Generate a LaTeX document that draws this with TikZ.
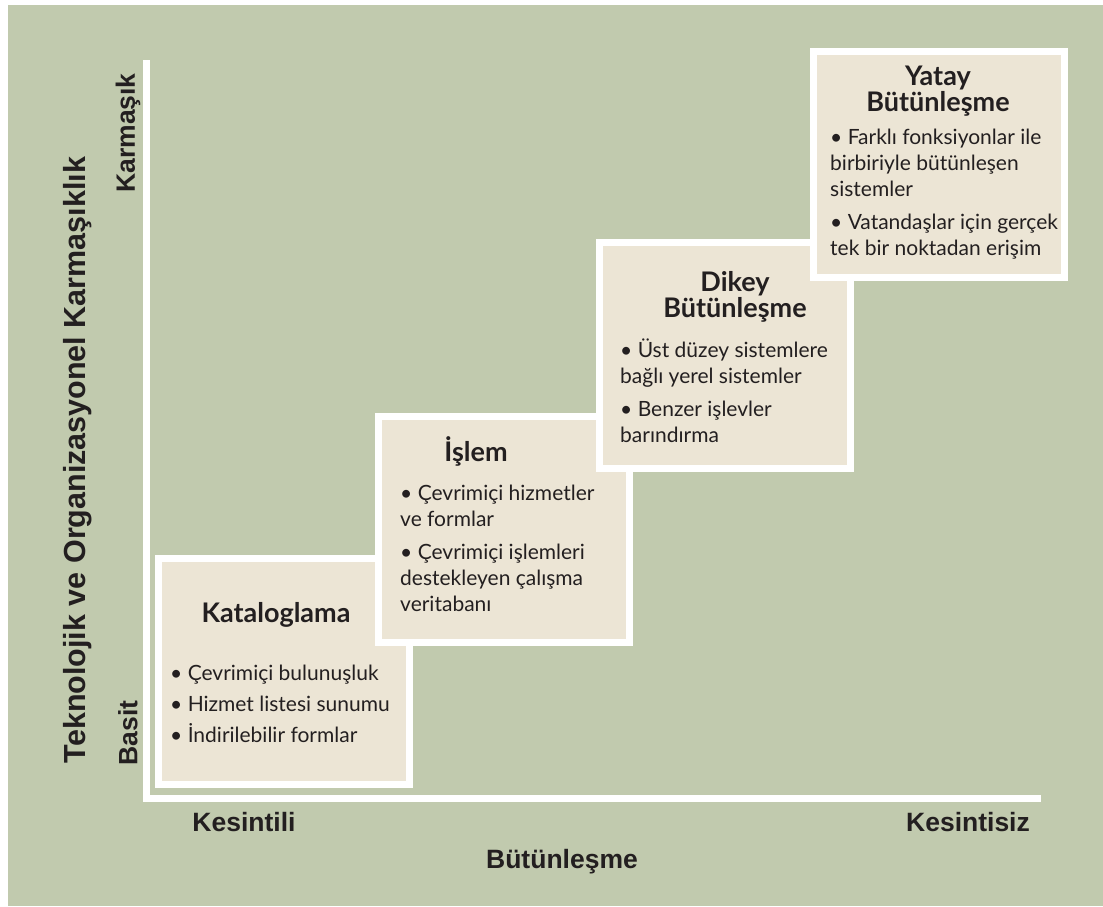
\documentclass[tikz,border=0pt]{standalone}
\usepackage{fontspec}
\setmainfont{Lato}
\newfontfamily\axisfont{Liberation Sans}
\definecolor{bg}{HTML}{C1CAAE}
\definecolor{beige}{HTML}{ECE5D5}
\definecolor{ink}{HTML}{231F20}
\begin{document}
\begin{tikzpicture}[x=1pt,y=-1pt,
 stage/.style={draw=white,line width=7pt,fill=beige,minimum width=251pt,minimum height=226pt,inner sep=0pt,outer sep=0pt},
 ttl/.style={font=\fontsize{27}{26}\selectfont\bfseries,text=ink,align=center,anchor=center,inner sep=0pt},
 body/.style={font=\fontsize{21}{26}\selectfont,text=ink,align=left,anchor=north west,inner sep=0pt},
 axislab/.style={font=\axisfont\bfseries\fontsize{26.5}{30}\selectfont,text=ink,inner sep=0pt},
 axisline/.style={draw=white,line width=7pt,line join=miter}]
\path[use as bounding box,fill=white] (0,0) rectangle (1103,906);
\fill[bg] (8,5) rectangle (1103,906);
% axes
\coordinate (ytop) at (146,60);
\coordinate (xend) at (1041,798);
\draw[axisline] (ytop) |- (xend);
% stages
\node[stage] (kat) at (284,671.5) {};
\node[ttl] (katt) at (276,615) {Kataloglama};
\node[body] (katb) at (170,665) {• Çevrimiçi bulunuşluk\\[5pt]• Hizmet listesi sunumu\\[5pt]• İndirilebilir formlar};
\node[stage] (isl) at (503.5,529) {};
\node[ttl] (islt) at (476,451) {İşlem};
\node[body] (islb) at (400,485) {• Çevrimiçi hizmetler\\ve formlar\\[7pt]• Çevrimiçi işlemleri\\destekleyen çalışma\\veritabanı};
\node[stage] (dik) at (725,355) {};
\node[ttl] (dikt) at (735,297) {Dikey\\Bütünleşme};
\node[body] (dikb) at (620,339) {• Üst düzey sistemlere\\bağlı yerel sistemler\\[7pt]• Benzer işlevler\\barındırma};
\node[stage] (yat) at (938.5,164.5) {};
\node[ttl] (yatt) at (938,91) {Yatay\\Bütünleşme};
\node[body] (yatb) at (830,129) {• Farklı fonksiyonlar ile\\birbiriyle bütünleşen\\sistemler\\[7pt]• Vatandaşlar için gerçek\\tek bir noktadan erişim};
% axis labels
\node[axislab,rotate=90,font=\axisfont\bfseries\fontsize{30.5}{32}\selectfont] (ytitle) at (78,460) {Teknolojik ve Organizasyonel Karmaşıklık};
\node[axislab,rotate=90] (ycomplex) at (128,133) {Karmaşık};
\node[axislab,rotate=90] (ysimple) at (128,733) {Basit};
\node[axislab] (xlow) at (244,822) {Kesintili};
\node[axislab] (xhigh) at (968,822) {Kesintisiz};
\node[axislab] (xtitle) at (562,862) {Bütünleşme};
\end{tikzpicture}
\end{document}
